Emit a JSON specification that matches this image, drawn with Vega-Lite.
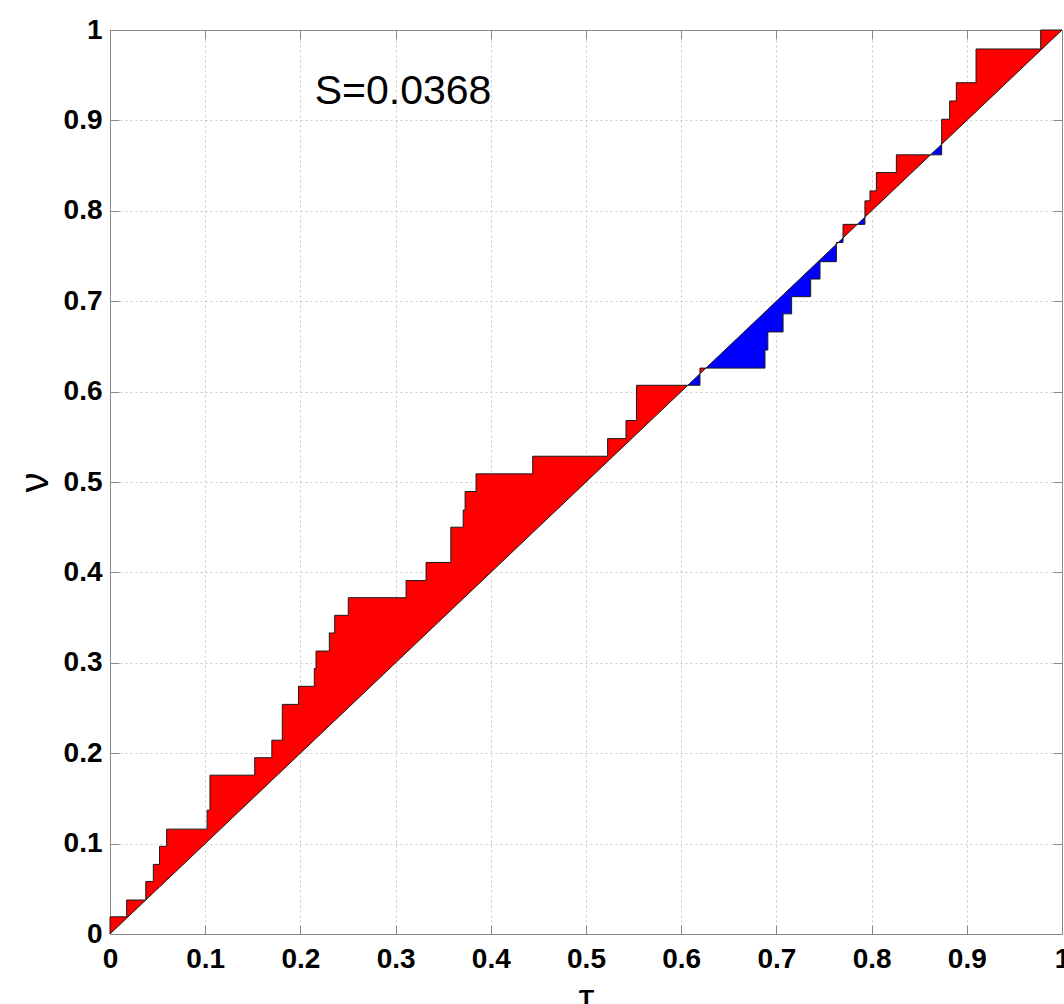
{
  "$schema": "https://vega.github.io/schema/vega-lite/v6.json",
  "width": 952,
  "height": 904,
  "autosize": {"type": "none"},
  "padding": {"left": 110, "top": 30, "right": 2, "bottom": 70},
  "background": "white",
  "config": {
    "view": {"stroke": "#888888", "strokeWidth": 1},
    "axis": {
      "domainColor": "#888888",
      "tickColor": "#888888",
      "tickSize": -9,
      "gridColor": "#c8c8c8",
      "gridDash": [2, 3],
      "gridWidth": 1,
      "labelFont": "Liberation Sans",
      "labelFontSize": 28,
      "labelFontWeight": "bold",
      "labelColor": "#000000",
      "labelFlush": false,
      "labelOverlap": false,
      "titleFont": "Liberation Sans",
      "titleFontSize": 40,
      "titleFontWeight": "normal",
      "titleColor": "#000000"
    }
  },
  "datasets": {
    "steps": [
      {"g":1,"s":"above","t":0,"v":0,"d":0},
      {"g":1,"s":"above","t":0,"v":0.019,"d":0},
      {"g":1,"s":"above","t":0.0175,"v":0.019,"d":0.0175},
      {"g":1,"s":"above","t":0.0175,"v":0.0376,"d":0.0175},
      {"g":1,"s":"above","t":0.0376,"v":0.0376,"d":0.0376},
      {"g":1,"s":"above","t":0.0376,"v":0.058,"d":0.0376},
      {"g":1,"s":"above","t":0.0455,"v":0.058,"d":0.0455},
      {"g":1,"s":"above","t":0.0455,"v":0.077,"d":0.0455},
      {"g":1,"s":"above","t":0.052,"v":0.077,"d":0.052},
      {"g":1,"s":"above","t":0.052,"v":0.097,"d":0.052},
      {"g":1,"s":"above","t":0.0595,"v":0.097,"d":0.0595},
      {"g":1,"s":"above","t":0.0595,"v":0.116,"d":0.0595},
      {"g":1,"s":"above","t":0.102,"v":0.116,"d":0.102},
      {"g":1,"s":"above","t":0.102,"v":0.137,"d":0.102},
      {"g":1,"s":"above","t":0.105,"v":0.137,"d":0.105},
      {"g":1,"s":"above","t":0.105,"v":0.1757,"d":0.105},
      {"g":1,"s":"above","t":0.152,"v":0.1757,"d":0.152},
      {"g":1,"s":"above","t":0.152,"v":0.195,"d":0.152},
      {"g":1,"s":"above","t":0.17,"v":0.195,"d":0.17},
      {"g":1,"s":"above","t":0.17,"v":0.2144,"d":0.17},
      {"g":1,"s":"above","t":0.181,"v":0.2144,"d":0.181},
      {"g":1,"s":"above","t":0.181,"v":0.254,"d":0.181},
      {"g":1,"s":"above","t":0.198,"v":0.254,"d":0.198},
      {"g":1,"s":"above","t":0.198,"v":0.274,"d":0.198},
      {"g":1,"s":"above","t":0.2146,"v":0.274,"d":0.2146},
      {"g":1,"s":"above","t":0.2146,"v":0.2936,"d":0.2146},
      {"g":1,"s":"above","t":0.2164,"v":0.2936,"d":0.2164},
      {"g":1,"s":"above","t":0.2164,"v":0.313,"d":0.2164},
      {"g":1,"s":"above","t":0.2304,"v":0.313,"d":0.2304},
      {"g":1,"s":"above","t":0.2304,"v":0.333,"d":0.2304},
      {"g":1,"s":"above","t":0.236,"v":0.333,"d":0.236},
      {"g":1,"s":"above","t":0.236,"v":0.3525,"d":0.236},
      {"g":1,"s":"above","t":0.2503,"v":0.3525,"d":0.2503},
      {"g":1,"s":"above","t":0.2503,"v":0.372,"d":0.2503},
      {"g":1,"s":"above","t":0.311,"v":0.372,"d":0.311},
      {"g":1,"s":"above","t":0.311,"v":0.391,"d":0.311},
      {"g":1,"s":"above","t":0.332,"v":0.391,"d":0.332},
      {"g":1,"s":"above","t":0.332,"v":0.411,"d":0.332},
      {"g":1,"s":"above","t":0.358,"v":0.411,"d":0.358},
      {"g":1,"s":"above","t":0.358,"v":0.45,"d":0.358},
      {"g":1,"s":"above","t":0.371,"v":0.45,"d":0.371},
      {"g":1,"s":"above","t":0.371,"v":0.469,"d":0.371},
      {"g":1,"s":"above","t":0.373,"v":0.469,"d":0.373},
      {"g":1,"s":"above","t":0.373,"v":0.4895,"d":0.373},
      {"g":1,"s":"above","t":0.3845,"v":0.4895,"d":0.3845},
      {"g":1,"s":"above","t":0.3845,"v":0.509,"d":0.3845},
      {"g":1,"s":"above","t":0.444,"v":0.509,"d":0.444},
      {"g":1,"s":"above","t":0.444,"v":0.5285,"d":0.444},
      {"g":1,"s":"above","t":0.5227,"v":0.5285,"d":0.5227},
      {"g":1,"s":"above","t":0.5227,"v":0.548,"d":0.5227},
      {"g":1,"s":"above","t":0.542,"v":0.548,"d":0.542},
      {"g":1,"s":"above","t":0.542,"v":0.568,"d":0.542},
      {"g":1,"s":"above","t":0.553,"v":0.568,"d":0.553},
      {"g":1,"s":"above","t":0.553,"v":0.607,"d":0.553},
      {"g":1,"s":"above","t":0.607,"v":0.607,"d":0.607},
      {"g":2,"s":"below","t":0.607,"v":0.607,"d":0.607},
      {"g":2,"s":"below","t":0.6197,"v":0.607,"d":0.6197},
      {"g":2,"s":"below","t":0.6197,"v":0.6197,"d":0.6197},
      {"g":3,"s":"above","t":0.6197,"v":0.6197,"d":0.6197},
      {"g":3,"s":"above","t":0.6197,"v":0.626,"d":0.6197},
      {"g":3,"s":"above","t":0.626,"v":0.626,"d":0.626},
      {"g":4,"s":"below","t":0.626,"v":0.626,"d":0.626},
      {"g":4,"s":"below","t":0.688,"v":0.626,"d":0.688},
      {"g":4,"s":"below","t":0.688,"v":0.646,"d":0.688},
      {"g":4,"s":"below","t":0.691,"v":0.646,"d":0.691},
      {"g":4,"s":"below","t":0.691,"v":0.666,"d":0.691},
      {"g":4,"s":"below","t":0.707,"v":0.666,"d":0.707},
      {"g":4,"s":"below","t":0.707,"v":0.686,"d":0.707},
      {"g":4,"s":"below","t":0.716,"v":0.686,"d":0.716},
      {"g":4,"s":"below","t":0.716,"v":0.705,"d":0.716},
      {"g":4,"s":"below","t":0.736,"v":0.705,"d":0.736},
      {"g":4,"s":"below","t":0.736,"v":0.7245,"d":0.736},
      {"g":4,"s":"below","t":0.7458,"v":0.7245,"d":0.7458},
      {"g":4,"s":"below","t":0.7458,"v":0.7437,"d":0.7458},
      {"g":4,"s":"below","t":0.763,"v":0.7437,"d":0.763},
      {"g":4,"s":"below","t":0.763,"v":0.763,"d":0.763},
      {"g":5,"s":"above","t":0.763,"v":0.763,"d":0.763},
      {"g":5,"s":"above","t":0.763,"v":0.765,"d":0.763},
      {"g":5,"s":"above","t":0.765,"v":0.765,"d":0.765},
      {"g":6,"s":"below","t":0.765,"v":0.765,"d":0.765},
      {"g":6,"s":"below","t":0.77,"v":0.765,"d":0.77},
      {"g":6,"s":"below","t":0.77,"v":0.77,"d":0.77},
      {"g":7,"s":"above","t":0.77,"v":0.77,"d":0.77},
      {"g":7,"s":"above","t":0.77,"v":0.785,"d":0.77},
      {"g":7,"s":"above","t":0.785,"v":0.785,"d":0.785},
      {"g":8,"s":"below","t":0.785,"v":0.785,"d":0.785},
      {"g":8,"s":"below","t":0.793,"v":0.785,"d":0.793},
      {"g":8,"s":"below","t":0.793,"v":0.793,"d":0.793},
      {"g":9,"s":"above","t":0.793,"v":0.793,"d":0.793},
      {"g":9,"s":"above","t":0.793,"v":0.811,"d":0.793},
      {"g":9,"s":"above","t":0.7983,"v":0.811,"d":0.7983},
      {"g":9,"s":"above","t":0.7983,"v":0.822,"d":0.7983},
      {"g":9,"s":"above","t":0.805,"v":0.822,"d":0.805},
      {"g":9,"s":"above","t":0.805,"v":0.8423,"d":0.805},
      {"g":9,"s":"above","t":0.826,"v":0.8423,"d":0.826},
      {"g":9,"s":"above","t":0.826,"v":0.8619,"d":0.826},
      {"g":9,"s":"above","t":0.8619,"v":0.8619,"d":0.8619},
      {"g":10,"s":"below","t":0.8619,"v":0.8619,"d":0.8619},
      {"g":10,"s":"below","t":0.8736,"v":0.8619,"d":0.8736},
      {"g":10,"s":"below","t":0.8736,"v":0.8736,"d":0.8736},
      {"g":11,"s":"above","t":0.8736,"v":0.8736,"d":0.8736},
      {"g":11,"s":"above","t":0.8736,"v":0.9013,"d":0.8736},
      {"g":11,"s":"above","t":0.882,"v":0.9013,"d":0.882},
      {"g":11,"s":"above","t":0.882,"v":0.9215,"d":0.882},
      {"g":11,"s":"above","t":0.889,"v":0.9215,"d":0.889},
      {"g":11,"s":"above","t":0.889,"v":0.9417,"d":0.889},
      {"g":11,"s":"above","t":0.9097,"v":0.9417,"d":0.9097},
      {"g":11,"s":"above","t":0.9097,"v":0.979,"d":0.9097},
      {"g":11,"s":"above","t":0.9776,"v":0.979,"d":0.9776},
      {"g":11,"s":"above","t":0.9776,"v":1,"d":0.9776},
      {"g":11,"s":"above","t":1,"v":1,"d":1}
    ],
    "note": [
      {"t": 0.215, "v": 0.9315, "label": "S=0.0368"}
    ]
  },
  "layer": [
    {
      "data": {"name": "steps"},
      "mark": {"type": "area", "orient": "vertical", "stroke": "#1a1a1a", "strokeWidth": 1, "fillOpacity": 1, "interpolate": "linear"},
      "encoding": {
        "x": {
          "field": "t", "type": "quantitative",
          "scale": {"domain": [0, 1], "nice": false, "zero": false},
          "axis": {"orient": "bottom", "values": [0,0.1,0.2,0.3,0.4,0.5,0.6,0.7,0.8,0.9,1], "format": "~g", "grid": true, "title": "τ", "labelPadding": 20, "titlePadding": 6}
        },
        "y": {
          "field": "v", "type": "quantitative", "stack": null,
          "scale": {"domain": [0, 1], "nice": false, "zero": false},
          "axis": {"orient": "left", "values": [0,0.1,0.2,0.3,0.4,0.5,0.6,0.7,0.8,0.9,1], "format": "~g", "grid": true, "title": "ν", "labelPadding": 17, "titlePadding": 8}
        },
        "y2": {"field": "d"},
        "color": {"field": "s", "type": "nominal", "scale": {"domain": ["above", "below"], "range": ["#ff0000", "#0000ff"]}, "legend": null},
        "detail": {"field": "g", "type": "nominal"},
        "order": {"value": null}
      }
    },
    {
      "data": {"name": "note"},
      "mark": {"type": "text", "align": "left", "baseline": "middle", "font": "Liberation Sans", "fontSize": 41, "color": "#000000"},
      "encoding": {
        "x": {
          "field": "t", "type": "quantitative",
          "scale": {"domain": [0, 1], "nice": false, "zero": false},
          "axis": {"orient": "top", "values": [0,0.1,0.2,0.3,0.4,0.5,0.6,0.7,0.8,0.9,1], "labels": false, "grid": false, "title": null}
        },
        "y": {
          "field": "v", "type": "quantitative",
          "scale": {"domain": [0, 1], "nice": false, "zero": false},
          "axis": {"orient": "right", "values": [0,0.1,0.2,0.3,0.4,0.5,0.6,0.7,0.8,0.9,1], "labels": false, "grid": false, "title": null}
        },
        "text": {"field": "label"}
      }
    }
  ],
  "resolve": {"axis": {"x": "independent", "y": "independent"}}
}
